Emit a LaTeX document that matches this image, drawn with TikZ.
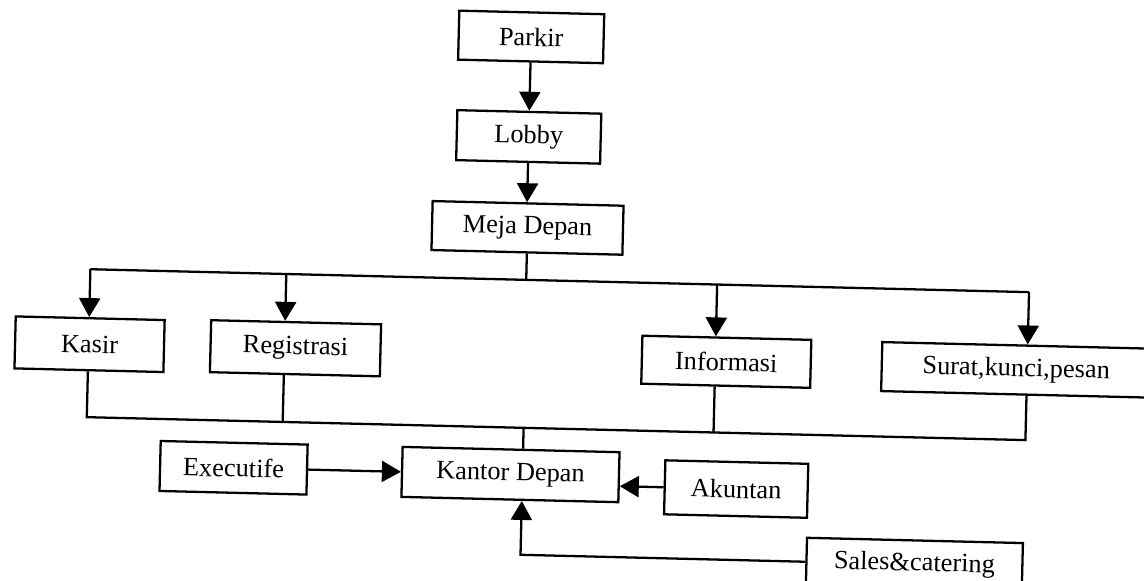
\documentclass[tikz,border=0pt]{standalone}
\usepackage{fontspec}
\setmainfont{Liberation Serif}
\usetikzlibrary{arrows.meta}
\begin{document}
\begin{tikzpicture}[x=0.02cm,y=-0.02cm,
  box/.style={draw, line width=1.3pt, inner sep=0pt, align=center,
              font=\fontsize{15}{18}\selectfont},
  link/.style={line width=1.3pt},
  arr/.style={link, -{Triangle[length=0.38cm,width=0.42cm]}}]
\fill[white] (0,0) rectangle (1144,581);
\useasboundingbox (0,0) rectangle (1144,581);
\begin{scope}[rotate around={-1.4:(572,290)}, transform shape]
  % flow boxes
  \node[box, minimum width=2.90cm, minimum height=0.98cm] (parkir) at (525,38)  {Parkir};
  \node[box, minimum width=2.88cm, minimum height=1.00cm] (lobby)  at (525,138) {Lobby};
  \node[box, minimum width=3.82cm, minimum height=0.98cm] (meja)   at (526,229) {Meja Depan};
  \node[box, minimum width=2.98cm, minimum height=1.04cm] (kasir)  at (91,356)  {Kasir};
  \node[box, minimum width=3.40cm, minimum height=1.04cm] (reg)    at (297,355) {Registrasi};
  \node[box, minimum width=3.38cm, minimum height=0.96cm] (info)   at (728,358) {Informasi};
  \node[box, minimum width=5.38cm, minimum height=0.98cm] (surat)  at (1018,359) {Surat,kunci,pesan};
  \node[box, minimum width=4.34cm, minimum height=1.00cm] (kantor) at (515,476) {Kantor Depan};
  \node[box, minimum width=2.94cm, minimum height=1.00cm] (exec)   at (238,476) {Executife};
  \node[box, minimum width=2.86cm, minimum height=1.08cm] (akun)   at (741,485) {Akuntan};
  \node[box, minimum width=4.32cm, minimum height=0.96cm] (sales)  at (921,556) {Sales\&catering};

  % distribution bus under Meja Depan
  \coordinate (tK) at (90,281);
  \coordinate (tR) at (286,281);
  \coordinate (tI) at (717,281);
  \coordinate (tS) at (1029,281);
  % collecting bus above Kantor Depan
  \coordinate (bK) at (90,429);
  \coordinate (bR) at (286,429);
  \coordinate (bI) at (717,429);
  \coordinate (bS) at (1029,429);
  \coordinate (kx) at (527,429);

  \draw[arr] (parkir.south) -- (lobby.north);
  \draw[arr] (lobby.south) -- (lobby.south |- meja.north);
  \draw[link] (meja.south) -- (meja.south |- tK);
  \draw[link] (tK) -- (tS);
  \draw[arr] (tK) -- (tK |- kasir.north);
  \draw[arr] (tR) -- (tR |- reg.north);
  \draw[arr] (tI) -- (tI |- info.north);
  \draw[arr] (tS) -- (tS |- surat.north);

  \draw[link] (bK |- kasir.south) -- (bK) -- (bS) -- (bS |- surat.south);
  \draw[link] (bR |- reg.south) -- (bR);
  \draw[link] (bI |- info.south) -- (bI);
  \draw[link] (kx) -- (kx |- kantor.north);

  \draw[arr] (exec.east) -- (exec.east -| kantor.west);
  \draw[arr] (akun.west) -- (akun.west -| kantor.east);
  \draw[arr] (sales.west) -- (sales.west -| kx) -- (kx |- kantor.south);
\end{scope}
\end{tikzpicture}
\end{document}
